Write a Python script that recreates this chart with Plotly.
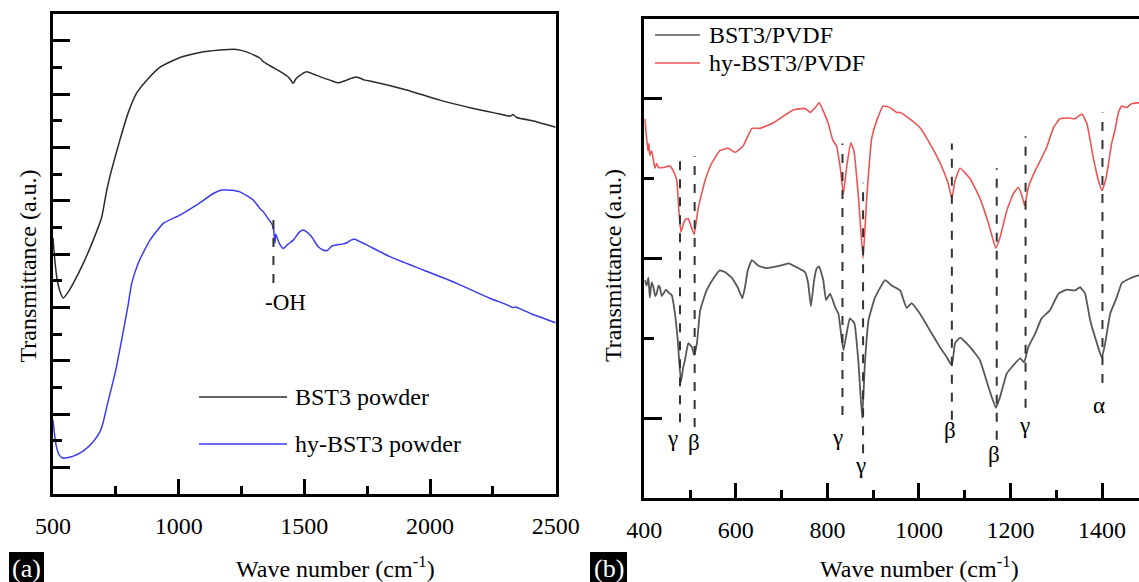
import plotly.graph_objects as go

W, H = 1139, 582

# ---------------- Panel (a) data: FTIR of powders ----------------
a_bst3_wn = [500, 508, 518, 530, 541, 560, 581, 621, 660, 694, 714, 733, 766, 800, 833, 873, 926,
             1005, 1085, 1164, 1197, 1230, 1270, 1323, 1337, 1380, 1416, 1440, 1456, 1466, 1476,
             1509, 1535, 1562, 1602, 1635, 1668, 1690, 1708, 1740, 1774, 1907, 2039, 2172, 2268,
             2320, 2330, 2345, 2420, 2500]
a_bst3_t = [9.60, 8.70, 7.95, 7.54, 7.35, 7.57, 7.91, 8.66, 9.52, 10.39, 11.40, 12.15, 13.27, 14.32,
            15.04, 15.52, 16.01, 16.37, 16.56, 16.65, 16.67, 16.67, 16.58, 16.35, 16.21, 15.97,
            15.77, 15.60, 15.40, 15.56, 15.65, 15.83, 15.75, 15.65, 15.52, 15.42, 15.52, 15.60,
            15.64, 15.52, 15.46, 15.15, 14.77, 14.46, 14.27, 14.17, 14.23, 14.12, 13.97, 13.75]

a_hy_wn = [500, 505, 512, 525, 541, 581, 621, 660, 687, 700, 714, 747, 773, 800, 813, 839, 860, 886,
           939, 1005, 1072, 1138, 1170, 1191, 1220, 1244, 1297, 1323, 1337, 1360, 1370, 1378, 1380,
           1383, 1386, 1390, 1400, 1416, 1435, 1456, 1480, 1496, 1510, 1529, 1555, 1575, 1589,
           1610, 1628, 1650, 1668, 1685, 1701, 1715, 1748, 1840, 1973, 2106, 2238, 2300, 2330,
           2340, 2400, 2500]
a_hy_t = [2.77, 2.32, 1.84, 1.46, 1.34, 1.42, 1.62, 1.96, 2.34, 2.70, 3.27, 4.53, 5.77, 7.15, 7.90,
          8.65, 9.07, 9.52, 10.15, 10.46, 10.84, 11.27, 11.40, 11.40, 11.38, 11.33, 11.02, 10.71,
          10.58, 10.27, 10.15, 9.90, 9.67, 9.40, 9.75, 9.65, 9.41, 9.21, 9.37, 9.52, 9.82, 9.90,
          9.82, 9.65, 9.27, 9.15, 9.12, 9.30, 9.34, 9.37, 9.42, 9.52, 9.55, 9.49, 9.34, 8.90,
          8.40, 7.90, 7.34, 7.12, 6.99, 7.01, 6.77, 6.42]

a_oh_wn = 1377
a_oh_top, a_oh_bottom = 10.54, 7.91
a_oh_label = "-OH"
a_oh_label_wn, a_oh_label_t = 1423, 7.2

# ---------------- Panel (b) data: FTIR of composites ----------------
b_hy_wn = [401, 405, 408, 410, 412, 416, 420, 423, 427, 431, 441, 456, 463, 471, 476, 480, 485, 490,
           496, 503, 509, 518, 533, 547, 565, 583, 598, 616, 635, 653, 682, 725, 751, 763, 775, 782,
           791, 802, 812, 820, 828, 835, 842, 851, 858, 868, 878, 886, 897, 908, 922, 937, 951, 959,
           980, 1002, 1024, 1046, 1064, 1072, 1079, 1090, 1112, 1133, 1152, 1168, 1177, 1192, 1206,
           1217, 1225, 1231, 1239, 1254, 1268, 1279, 1294, 1308, 1326, 1341, 1356, 1367, 1381,
           1392, 1400, 1409, 1421, 1428, 1436, 1443, 1454, 1465, 1480, 1500]
b_hy_t = [4.75, 4.51, 4.35, 4.44, 4.29, 4.35, 4.23, 4.13, 4.19, 4.14, 4.14, 4.16, 4.10, 3.98, 3.56,
          3.33, 3.43, 3.49, 3.50, 3.39, 3.30, 3.64, 3.98, 4.19, 4.35, 4.38, 4.33, 4.41, 4.63, 4.63,
          4.70, 4.86, 4.88, 4.83, 4.90, 4.95, 4.85, 4.69, 4.48, 4.41, 4.14, 3.81, 4.14, 4.45, 4.35,
          3.76, 3.00, 3.76, 4.51, 4.73, 4.91, 4.89, 4.83, 4.83, 4.75, 4.64, 4.44, 4.20, 3.94, 3.75,
          3.98, 4.13, 4.00, 3.76, 3.44, 3.13, 3.26, 3.60, 3.81, 3.89, 3.79, 3.66, 3.89, 4.10, 4.26,
          4.39, 4.64, 4.75, 4.76, 4.75, 4.81, 4.69, 4.26, 3.98, 3.85, 4.01, 4.44, 4.60, 4.83, 4.91,
          4.89, 4.94, 4.95, 4.96]

b_bst3_wn = [401, 405, 409, 412, 416, 420, 424, 427, 431, 434, 438, 442, 447, 452, 460, 467, 473, 480,
             485, 489, 496, 504, 509, 515, 522, 536, 551, 565, 576, 591, 605, 614, 620, 626, 635,
             649, 667, 697, 715, 733, 751, 758, 764, 771, 777, 782, 791, 797, 806, 817, 824, 835,
             842, 849, 859, 868, 876, 882, 890, 904, 926, 941, 959, 973, 984, 1002, 1024, 1046,
             1061, 1072, 1079, 1090, 1112, 1133, 1152, 1168, 1177, 1192, 1206, 1221, 1230, 1239,
             1254, 1268, 1286, 1305, 1323, 1341, 1352, 1363, 1374, 1385, 1396, 1400, 1407, 1418,
             1432, 1443, 1454, 1465, 1480, 1500]
b_bst3_t = [2.73, 2.66, 2.76, 2.51, 2.70, 2.64, 2.53, 2.56, 2.66, 2.64, 2.53, 2.56, 2.61, 2.58, 2.54,
            2.31, 1.98, 1.45, 1.64, 1.73, 1.94, 1.89, 1.79, 1.94, 2.35, 2.60, 2.75, 2.85, 2.83,
            2.76, 2.63, 2.50, 2.64, 2.85, 2.98, 2.91, 2.88, 2.91, 2.94, 2.89, 2.83, 2.69, 2.40,
            2.73, 2.88, 2.90, 2.73, 2.48, 2.56, 2.39, 2.31, 1.85, 2.06, 2.25, 2.19, 1.69, 1.00,
            1.69, 2.23, 2.51, 2.73, 2.66, 2.60, 2.38, 2.44, 2.31, 2.10, 1.89, 1.76, 1.66, 1.94,
            2.01, 1.89, 1.73, 1.39, 1.13, 1.26, 1.56, 1.66, 1.75, 1.70, 1.89, 2.06, 2.25, 2.35,
            2.56, 2.61, 2.60, 2.64, 2.56, 2.23, 2.01, 1.81, 1.76, 1.94, 2.31, 2.51, 2.69, 2.73,
            2.76, 2.79, 2.80]

b_band_wn = [478, 510, 833, 878, 1072, 1170, 1233, 1401]
b_band_top = [4.33, 4.28, 4.44, 3.95, 4.44, 4.13, 4.53, 4.83]
b_band_bottom = [0.95, 0.89, 1.04, 0.56, 0.98, 0.73, 1.13, 1.44]
b_band_label = ["γ", "β", "γ", "γ", "β", "β", "γ", "α"]
b_label_wn = [462, 508, 823, 873, 1068, 1164, 1230, 1394]
b_label_t = [0.75, 0.69, 0.76, 0.41, 0.84, 0.54, 0.91, 1.16]

legend_a = ["BST3 powder", "hy-BST3 powder"]
legend_b = ["BST3/PVDF", "hy-BST3/PVDF"]
x_title = "Wave number (cm<sup>-1</sup>)"
y_title = "Transmittance (a.u.)"

# ---------------- styling ----------------
FONT = "'Liberation Serif', 'Times New Roman', Times, serif"
C_A_BLACK = "#2b2b2b"
C_A_BLUE = "#3b3bef"
C_B_GRAY = "#575757"
C_B_RED = "#ec5454"
DASH_C = "#333333"


def px(xp):
    return xp / W


def py(yp):
    return 1 - yp / H


fig = go.Figure()
fig.add_trace(go.Scatter(x=a_bst3_wn, y=a_bst3_t, mode="lines",
                         line=dict(color=C_A_BLACK, width=1.5, shape="spline", smoothing=0.5),
                         xaxis="x", yaxis="y", showlegend=False))
fig.add_trace(go.Scatter(x=a_hy_wn, y=a_hy_t, mode="lines",
                         line=dict(color=C_A_BLUE, width=1.5, shape="spline", smoothing=0.5),
                         xaxis="x", yaxis="y", showlegend=False))
fig.add_trace(go.Scatter(x=b_hy_wn, y=b_hy_t, mode="lines",
                         line=dict(color=C_B_RED, width=1.6, shape="spline", smoothing=0.35),
                         xaxis="x2", yaxis="y2", showlegend=False))
fig.add_trace(go.Scatter(x=b_bst3_wn, y=b_bst3_t, mode="lines",
                         line=dict(color=C_B_GRAY, width=1.8, shape="spline", smoothing=0.35),
                         xaxis="x2", yaxis="y2", showlegend=False))

shapes = []
annotations = []

# -OH marker in (a)
shapes.append(dict(type="line", xref="x", yref="y", x0=a_oh_wn, x1=a_oh_wn, y0=a_oh_bottom, y1=a_oh_top,
                   line=dict(color=DASH_C, width=2, dash="dash")))
annotations.append(dict(xref="x", yref="y", x=a_oh_label_wn, y=a_oh_label_t, text=a_oh_label, showarrow=False,
                        font=dict(family=FONT, size=23, color="black")))

# band markers in (b)
for wn, t0, t1 in zip(b_band_wn, b_band_top, b_band_bottom):
    shapes.append(dict(type="line", xref="x2", yref="y2", x0=wn, x1=wn, y0=t1, y1=t0,
                       line=dict(color=DASH_C, width=2, dash="dash")))
for lab, wn, t in zip(b_band_label, b_label_wn, b_label_t):
    annotations.append(dict(xref="x2", yref="y2", x=wn, y=t, text=lab, showarrow=False,
                            font=dict(family=FONT, size=23, color="black")))

# legends drawn as line + text
for i, (lab, col) in enumerate(zip(legend_a, [C_A_BLACK, C_A_BLUE])):
    yy = [397, 444][i]
    shapes.append(dict(type="line", xref="paper", yref="paper", x0=px(199), x1=px(287), y0=py(yy), y1=py(yy),
                       line=dict(color=col, width=1.5)))
    annotations.append(dict(xref="paper", yref="paper", x=px(293), y=py(yy), xanchor="left", yanchor="middle",
                            text=lab, showarrow=False, font=dict(family=FONT, size=24, color="black")))
for i, (lab, col) in enumerate(zip(legend_b, [C_B_GRAY, C_B_RED])):
    yy = [35, 63][i]
    shapes.append(dict(type="line", xref="paper", yref="paper", x0=px(655), x1=px(700), y0=py(yy), y1=py(yy),
                       line=dict(color=col, width=1.5)))
    annotations.append(dict(xref="paper", yref="paper", x=px(707), y=py(yy), xanchor="left", yanchor="middle",
                            text=lab, showarrow=False, font=dict(family=FONT, size=24, color="black")))

# axis titles
for xc, yc in [(27.5, 266), (613, 266)]:
    annotations.append(dict(xref="paper", yref="paper", x=px(xc), y=py(yc), text=y_title, textangle=-90,
                            showarrow=False, xanchor="center", yanchor="middle",
                            font=dict(family=FONT, size=24, color="black")))
for xc, yc in [(335, 567), (919, 567)]:
    annotations.append(dict(xref="paper", yref="paper", x=px(xc), y=py(yc), text=x_title,
                            showarrow=False, xanchor="center", yanchor="middle",
                            font=dict(family=FONT, size=24, color="black")))

# panel tags
for (x0, x1, lab) in [(9, 44, "(a)"), (590, 627, "(b)")]:
    shapes.append(dict(type="rect", xref="paper", yref="paper", x0=px(x0), x1=px(x1), y0=py(582), y1=py(552),
                       fillcolor="black", line=dict(width=0)))
    annotations.append(dict(xref="paper", yref="paper", x=px((x0 + x1) / 2), y=py(568), text=lab,
                            showarrow=False, xanchor="center", yanchor="middle",
                            font=dict(family=FONT, size=26, color="white")))

tickfont = dict(family=FONT, size=24, color="black")
common_x = dict(showgrid=False, zeroline=False, showline=True, linecolor="black", linewidth=3,
                ticks="inside", tickcolor="black", tickwidth=2.5, ticklen=15, tickfont=tickfont,
                ticklabelstandoff=8, automargin=False)
common_y = dict(showgrid=False, zeroline=False, showline=True, linecolor="black", linewidth=3,
                ticks="inside", tickcolor="black", tickwidth=2.5, showticklabels=False, automargin=False)

b_right = 400 + (W - 644.3) / 0.4577

fig.update_layout(
    template="none",
    width=W, height=H, margin=dict(l=0, r=0, t=0, b=0, pad=0, autoexpand=False),
    font=dict(family=FONT, size=24, color="black"),
    paper_bgcolor="white", plot_bgcolor="white", showlegend=False,
    xaxis=dict(domain=[px(53), px(555.7)], range=[500, 2500], tick0=500, dtick=500, mirror=True,
               anchor="y",
               minor=dict(ticks="inside", ticklen=8, tickwidth=2.5, tickcolor="black", dtick=250, tick0=500),
               **common_x),
    yaxis=dict(domain=[py(494), py(14)], range=[0, 18], tick0=1, dtick=2, ticklen=17, mirror=True,
               anchor="x",
               minor=dict(ticks="inside", ticklen=9, tickwidth=2.5, tickcolor="black", dtick=1, tick0=0),
               **common_y),
    xaxis2=dict(domain=[px(644.3), 1.0], range=[400, b_right], tick0=400, dtick=200, mirror=True,
                anchor="y2",
                minor=dict(ticks="inside", ticklen=8, tickwidth=2.5, tickcolor="black", dtick=100, tick0=400),
                **common_x),
    yaxis2=dict(domain=[py(498), py(19)], range=[0, 6], tick0=1, dtick=2, ticklen=18, mirror=False,
                anchor="x2",
                minor=dict(ticks="inside", ticklen=10, tickwidth=2.5, tickcolor="black", dtick=1, tick0=0),
                **common_y),
    shapes=shapes,
    annotations=annotations,
)

fig.write_html("out.html", config={"displayModeBar": False},
               post_script="document.body.style.margin='0';document.body.style.overflow='hidden';")
